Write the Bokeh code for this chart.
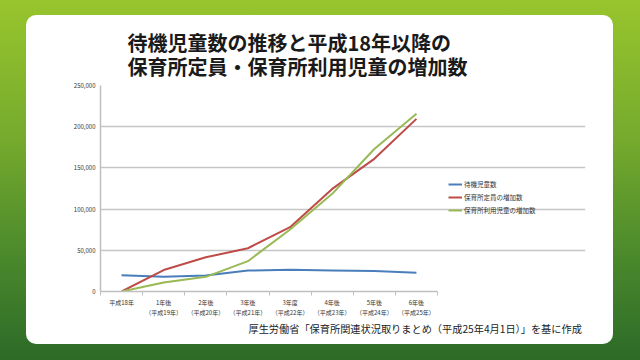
from bokeh.plotting import figure
from bokeh.models import (Range1d, FixedTicker, NumeralTickFormatter, Title,
                          Legend, LegendItem, InlineStyleSheet)
from bokeh.embed import file_html
from bokeh.resources import INLINE

categories = ["平成18年", "1年後\n（平成19年）", "2年後\n（平成20年）", "3年後\n（平成21年）",
              "3年度\n（平成22年）", "4年後\n（平成23年）", "5年後\n（平成24年）", "6年後\n（平成25年）"]
waiting_children = [19794, 17926, 19550, 25384, 26275, 25556, 24825, 22741]
capacity_increase = [0, 26000, 41500, 52500, 78000, 124500, 161000, 209500]
usage_increase = [0, 11000, 17800, 36800, 75200, 118500, 173000, 215600]
series_names = ["待機児童数", "保育所定員の増加数", "保育所利用児童の増加数"]
y_ticks = [0, 50000, 100000, 150000, 200000, 250000]

title_lines = ["待機児童数の推移と平成18年以降の", "保育所定員・保育所利用児童の増加数"]
source_text = "厚生労働省「保育所関連状況取りまとめ（平成25年4月1日）」を基に作成"

JP = "Noto Sans CJK JP"
W, H = 640, 360
n = len(categories)
xs = list(range(n))

# frame: x 100..585 (chart part 100..437 = 8 categories, legend area beyond), y 85..291
FL, FR, FT, FB = 100, 585, 85, 291
cat_px = (437 - FL) / n
x_end = -0.5 + (FR - FL) / cat_px

p = figure(width=W, height=H, output_backend="svg", toolbar_location=None,
           x_range=Range1d(-0.5, x_end), y_range=Range1d(0, 250000),
           min_border_left=FL, min_border_right=W - FR, min_border_top=FT, min_border_bottom=H - FB)
p.title.visible = False
p.styles = {"background": "linear-gradient(to bottom, #98c52d 0%, #74a92d 40%, #4c8a2c 70%, #2c6a28 100%)"}
p.stylesheets = [InlineStyleSheet(css="""
:host::before {
  content: "";
  position: absolute;
  left: 26px; top: 15px; width: 587px; height: 329px;
  background: #ffffff;
  border-radius: 10px;
}
""")]
p.background_fill_color = None
p.border_fill_color = None
p.outline_line_color = None

# axes
xa = p.xaxis[0]
xa.bounds = (-0.5, n - 0.5)
xa.ticker = FixedTicker(ticks=xs, minor_ticks=[i - 0.5 for i in range(n + 1)])
xa.major_label_overrides = {i: c for i, c in enumerate(categories)}
xa.major_tick_out = 0
xa.major_tick_in = 0
xa.minor_tick_out = 4
xa.minor_tick_in = 0
xa.axis_line_color = "#bfbfbf"
xa.axis_line_width = 1.5
xa.minor_tick_line_color = "#bfbfbf"
xa.major_label_text_font = JP
xa.major_label_text_font_size = "6px"
xa.major_label_text_color = "#333333"
xa.major_label_standoff = 2

ya = p.yaxis[0]
ya.ticker = FixedTicker(ticks=y_ticks)
ya.formatter = NumeralTickFormatter(format="0,0")
ya.major_tick_out = 0
ya.major_tick_in = 0
ya.minor_tick_line_color = None
ya.axis_line_color = "#bfbfbf"
ya.axis_line_width = 1.5
ya.major_label_text_font = JP
ya.major_label_text_font_size = "6px"
ya.major_label_text_color = "#333333"
ya.major_label_standoff = 5

p.xgrid.visible = False
p.ygrid.grid_line_color = "#c6c6c6"
p.ygrid.grid_line_width = 1.5
p.ygrid.bounds = (-0.5, n - 0.5)

colors = ["#4a7ebb", "#be4b48", "#98b954"]
items = []
for name, vals, col in zip(series_names, [waiting_children, capacity_increase, usage_increase], colors):
    r = p.line(xs, vals, line_color=col, line_width=2)
    items.append(LegendItem(label=name, renderers=[r]))

legend = Legend(items=items, location=(448 - FL, FB - 215), background_fill_alpha=0, border_line_color=None,
                label_text_font=JP, label_text_font_size="6.5px", label_text_color="#333333",
                glyph_width=14, glyph_height=8, label_height=8, spacing=3, padding=0, margin=0,
                label_standoff=2)
p.add_layout(legend)

p.add_layout(Title(text="\n".join(title_lines), align="left", offset=27, text_font=JP,
                   text_font_style="bold", text_font_size="20px", text_color="#1a1a1a",
                   text_line_height=0.85, standoff=8), "above")

p.add_layout(Title(text=source_text, align="left", offset=148, text_font=JP, text_font_style="normal",
                   text_font_size="10.2px", text_color="#222222", standoff=-4), "below")

open("out.html", "w").write(file_html(p, INLINE))
